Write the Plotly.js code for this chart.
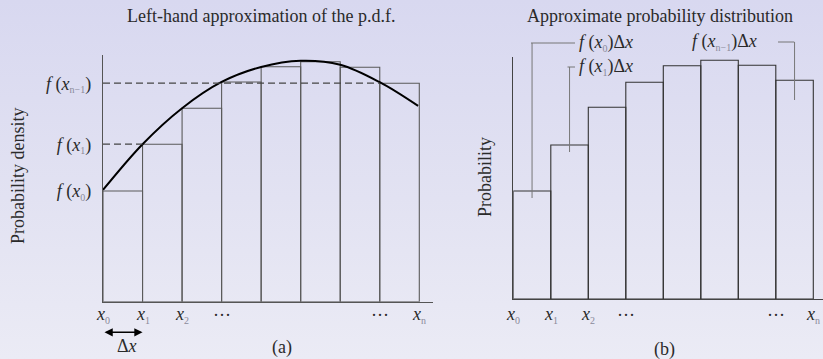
<!DOCTYPE html>
<html>
<head>
<meta charset="utf-8">
<script src="https://cdn.plot.ly/plotly-3.0.1.min.js"></script>
<style>
  html, body { margin: 0; padding: 0; }
  body { width: 823px; height: 359px; background: linear-gradient(to bottom, #d8d8f0 0%, #e2e2f2 55%, #ebebf5 100%); overflow: hidden; }
  #chart { width: 823px; height: 359px; }
</style>
</head>
<body>
<div id="chart"></div>
<script>
// ---- data ----
// bin index i runs from x0 to xn (n = 8 bins)
const binCenters = [0.5, 1.5, 2.5, 3.5, 4.5, 5.5, 6.5, 7.5];
// (a) left-hand heights f(x_i) of each bin
const densityA = [0.443, 0.630, 0.774, 0.879, 0.940, 0.960, 0.938, 0.874];
// (a) the p.d.f. curve, sampled at the bin edges
const curveX = [0, 1, 2, 3, 4, 5, 6, 7, 7.97];
const curveY = [0.447, 0.630, 0.774, 0.879, 0.939, 0.964, 0.948, 0.878, 0.783];
// (b) probabilities f(x_i)·Δx
const probB = [0.432, 0.616, 0.767, 0.867, 0.933, 0.955, 0.935, 0.875];
// tick labels
const xTickVals = [0, 1, 2, 3, 7, 8];
const sub = s => '<sub><span style="font-size:10px;color:#8a8a9a">' + s + '</span></sub>';
const xTickText = ['<i>x</i>' + sub('0'), '<i>x</i>' + sub('1'), '<i>x</i>' + sub('2'), '···', '···', '<i>x</i>' + sub('n')];
const fLabel = s => '<i>f</i> (<i>x</i>' + sub(s) + ')';
const yTickIdx = [0, 1, 7];
const yTickText = [fLabel('0'), fLabel('1'), fLabel('n−1')];

// ---- helpers for layout positions (pixels -> paper) ----
const W = 823, H = 359;
const px = v => v / W;
const py = v => 1 - v / H;

const FONT = '"Liberation Serif", "Times New Roman", "DejaVu Serif", serif';
const TXT = '#2a2a2a';

const traces = [
  { type: 'bar', x: binCenters, y: densityA, width: 1, xaxis: 'x', yaxis: 'y',
    marker: { color: 'rgba(0,0,0,0)', line: { color: '#5a5a5a', width: 1.1 } } },
  { type: 'scatter', mode: 'lines', x: curveX, y: curveY, xaxis: 'x', yaxis: 'y',
    line: { color: '#000', width: 2, shape: 'spline', smoothing: 1 } },
  { type: 'bar', x: binCenters, y: probB, width: 1, xaxis: 'x2', yaxis: 'y2',
    marker: { color: 'rgba(0,0,0,0)', line: { color: '#333', width: 1.1 } } }
];

const scaleA = (419.3 - 103) / 8;
const scaleB = (813.3 - 513.3) / 8;

const shapes = [
  // dashed guide lines in (a)
  { type: 'line', xref: 'x', yref: 'y', x0: 0, x1: 1, y0: densityA[1], y1: densityA[1],
    line: { color: '#444', width: 1.2, dash: '7px,4px' } },
  { type: 'line', xref: 'x', yref: 'y', x0: 0, x1: 7, y0: densityA[7], y1: densityA[7],
    line: { color: '#444', width: 1.2, dash: '7px,4px' } },
  // leader lines in (b)
  { type: 'line', xref: 'x2', yref: 'paper', x0: binCenters[0], x1: binCenters[0], y0: py(43), y1: py(198),
    line: { color: '#777', width: 1 } },
  { type: 'line', xref: 'paper', yref: 'paper', x0: px(531), x1: px(575), y0: py(43), y1: py(43),
    line: { color: '#777', width: 1 } },
  { type: 'line', xref: 'x2', yref: 'paper', x0: binCenters[1], x1: binCenters[1], y0: py(67), y1: py(152),
    line: { color: '#777', width: 1 } },
  { type: 'line', xref: 'paper', yref: 'paper', x0: px(567.5), x1: px(575), y0: py(67), y1: py(67),
    line: { color: '#777', width: 1 } },
  { type: 'line', xref: 'x2', yref: 'paper', x0: binCenters[7], x1: binCenters[7], y0: py(42), y1: py(100),
    line: { color: '#777', width: 1 } },
  { type: 'line', xref: 'paper', yref: 'paper', x0: px(778), x1: px(794.3), y0: py(42), y1: py(42),
    line: { color: '#777', width: 1 } }
];

const ann = (text, x, y, opts) => Object.assign({
  text: text, xref: 'paper', yref: 'paper', x: px(x), y: py(y),
  xanchor: 'center', yanchor: 'middle', showarrow: false,
  font: { family: FONT, size: 18, color: TXT }
}, opts || {});

const annotations = [
  ann('Left-hand approximation of the p.d.f.', 260.5, 16),
  ann('Approximate probability distribution', 660, 16),
  ann('Probability density', 18, 176, { textangle: -90 }),
  ann('Probability', 485, 177, { textangle: -90 }),
  ann('(a)', 282, 347),
  ann('(b)', 664, 349),
  ann('Δ<i>x</i>', 126.7, 346),
  ann(fLabel('0') + 'Δ<i>x</i>', 577, 43, { xanchor: 'left' }),
  ann(fLabel('1') + 'Δ<i>x</i>', 577, 67, { xanchor: 'left' }),
  ann(fLabel('n−1') + 'Δ<i>x</i>', 724.5, 42),
  // double-headed Δx arrow
  { xref: 'x', yref: 'paper', x: 1, y: py(332.3), axref: 'x', ayref: 'pixel', ax: 0, ay: 0,
    text: '', showarrow: true, arrowside: 'end+start', arrowhead: 2, arrowsize: 1.1,
    arrowwidth: 1.5, arrowcolor: '#000', standoff: 0, startstandoff: 0 }
];
// x tick labels of both panels, placed at the bin edges through each x axis
xTickVals.forEach((v, i) => {
  ['x', 'x2'].forEach(ax => {
    annotations.push({ text: xTickText[i], xref: ax, yref: 'paper', x: v, y: py(315),
      xanchor: 'center', yanchor: 'middle', showarrow: false,
      font: { family: FONT, size: 18, color: TXT } });
  });
});

const layout = {
  width: W, height: H,
  margin: { l: 0, r: 0, t: 0, b: 0, pad: 0 },
  paper_bgcolor: 'rgba(0,0,0,0)', plot_bgcolor: 'rgba(0,0,0,0)',
  showlegend: false, hovermode: false, barmode: 'overlay',
  font: { family: FONT, size: 18, color: TXT },
  xaxis: {
    domain: [px(103), px(433)], range: [0, (433 - 103) / scaleA], anchor: 'y',
    showline: true, linecolor: '#555', linewidth: 1.2, showgrid: false, zeroline: false,
    ticks: '', showticklabels: false
  },
  yaxis: {
    domain: [py(301.7), py(55)], range: [0, (301.7 - 55) / 250], anchor: 'x',
    showline: true, linecolor: '#555', linewidth: 1.2, showgrid: false, zeroline: false,
    ticks: '', tickmode: 'array', tickvals: yTickIdx.map(i => densityA[i]), ticktext: yTickText,
    tickfont: { family: FONT, size: 18, color: TXT }, ticklabelstandoff: 7
  },
  xaxis2: {
    domain: [px(513.3), 1], range: [0, (823 - 513.3) / scaleB], anchor: 'y2',
    showline: true, linecolor: '#444', linewidth: 1.2, showgrid: false, zeroline: false,
    ticks: '', showticklabels: false
  },
  yaxis2: {
    domain: [py(299), py(56.7)], range: [0, (299 - 56.7) / 250], anchor: 'x2',
    showline: true, linecolor: '#444', linewidth: 1.2, showgrid: false, zeroline: false,
    showticklabels: false, ticks: ''
  },
  shapes: shapes,
  annotations: annotations
};

Plotly.newPlot('chart', traces, layout, { staticPlot: true, displayModeBar: false });
</script>
</body>
</html>
